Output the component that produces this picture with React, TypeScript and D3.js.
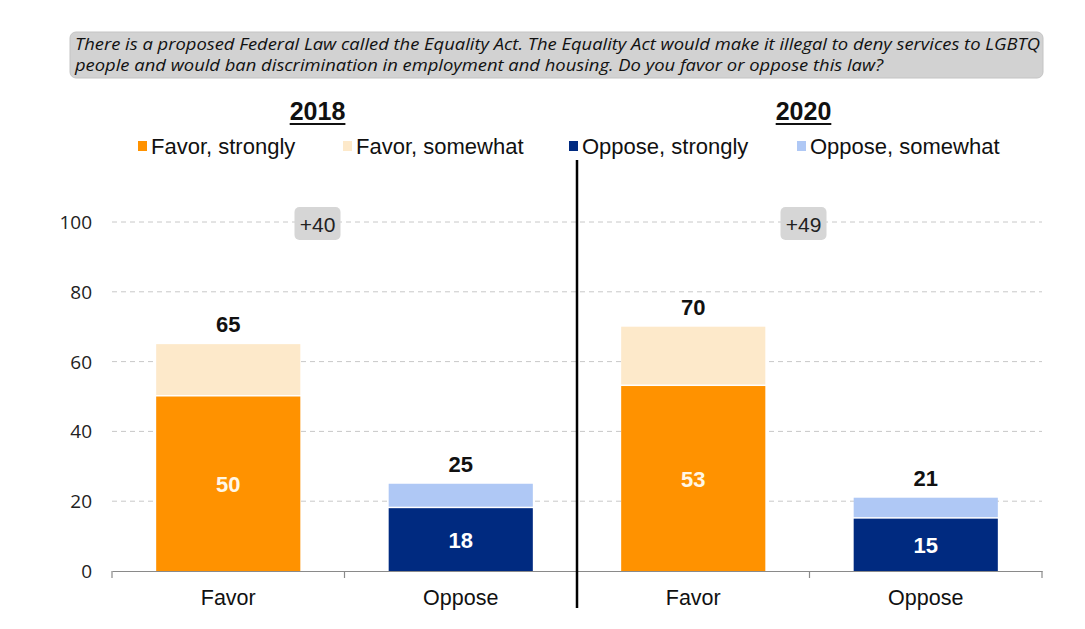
import React, { useRef, useEffect } from 'react';
import * as d3 from 'd3';

const years = ['2018', '2020'];
const answers = ['Favor', 'Oppose'];
const favorStrongly = [50, 53];
const favorSomewhat = [15, 17];
const opposeStrongly = [18, 15];
const opposeSomewhat = [7, 6];
const yTicks = [0, 20, 40, 60, 80, 100];

const legendLabels = ['Favor, strongly', 'Favor, somewhat', 'Oppose, strongly', 'Oppose, somewhat'];
const colors = ['#ff9200', '#fde9ca', '#002a80', '#afc8f5'];

const question = [
  'There is a proposed Federal Law called the Equality Act. The Equality Act would make it illegal to deny services to LGBTQ',
  'people and would ban discrimination in employment and housing. Do you favor or oppose this law?',
];

const width = 1085;
const height = 629;

const App: React.FC = () => {
  const svgRef = useRef<SVGSVGElement>(null);

  useEffect(() => {
    if (!svgRef.current) return;
    const svg = d3.select(svgRef.current);
    svg.selectAll('*').remove();

    const font = '"Liberation Sans", Arial, sans-serif';

    // one bar per year/answer
    const rows = years.flatMap((year, i) =>
      answers.map((answer) => {
        const strong = answer === 'Favor' ? favorStrongly[i] : opposeStrongly[i];
        const some = answer === 'Favor' ? favorSomewhat[i] : opposeSomewhat[i];
        const c = answer === 'Favor' ? [colors[0], colors[1]] : [colors[2], colors[3]];
        return { key: `${year}-${answer}`, year, answer, strong, some, total: strong + some, c };
      })
    );

    const x = d3.scaleBand().domain(rows.map((d) => d.key)).range([112, 1042]).padding(0);
    const y = d3.scaleLinear().domain([0, 100]).range([571, 222]);
    const barW = x.bandwidth() * 0.62;

    // question box
    svg
      .append('rect')
      .attr('x', 70)
      .attr('y', 32)
      .attr('width', 973)
      .attr('height', 46)
      .attr('rx', 6)
      .attr('fill', '#d2d2d2')
      .attr('stroke', '#c4c4c4');

    const lineW = [965, 808];
    svg
      .selectAll('.q')
      .data(question)
      .enter()
      .append('text')
      .attr('x', 75)
      .attr('y', (_, i) => 50 + i * 21)
      .attr('font-family', '"Open Sans", sans-serif')
      .attr('font-style', 'italic')
      .attr('font-size', 15.5)
      .attr('fill', '#111')
      .attr('textLength', (_, i) => lineW[i])
      .attr('lengthAdjust', 'spacingAndGlyphs')
      .text((d) => d);

    // grid
    svg
      .append('g')
      .selectAll('line')
      .data(yTicks.filter((t) => t > 0))
      .enter()
      .append('line')
      .attr('x1', 112)
      .attr('x2', 1042)
      .attr('y1', (d) => y(d))
      .attr('y2', (d) => y(d))
      .attr('stroke', '#c8c8c8')
      .attr('stroke-dasharray', '5,4');

    // y ticks
    svg
      .append('g')
      .selectAll('text')
      .data(yTicks)
      .enter()
      .append('text')
      .attr('x', 92)
      .attr('y', (d) => y(d) + 7)
      .attr('text-anchor', 'end')
      .attr('font-family', '"Open Sans", sans-serif')
      .attr('font-size', 19)
      .attr('fill', '#222')
      .text((d) => d);

    // x axis
    const xAxis = svg
      .append('g')
      .attr('transform', `translate(0,${y(0)})`)
      .call(d3.axisBottom(x).tickSize(0).tickFormat((k) => k.split('-')[1]));
    xAxis.select('.domain').attr('stroke', '#8a8a8a').attr('stroke-width', 1.2);
    xAxis
      .selectAll('text')
      .attr('dy', 0)
      .attr('y', 34)
      .attr('font-family', font)
      .attr('font-size', 21.5)
      .attr('fill', '#111');

    const bounds = [...rows.map((d) => x(d.key) as number), 1042];
    svg
      .append('g')
      .selectAll('line')
      .data(bounds)
      .enter()
      .append('line')
      .attr('x1', (d) => d)
      .attr('x2', (d) => d)
      .attr('y1', y(0))
      .attr('y2', y(0) + 7)
      .attr('stroke', '#8a8a8a')
      .attr('stroke-width', 1.2);

    // bars
    const bar = svg
      .append('g')
      .selectAll('g')
      .data(rows)
      .enter()
      .append('g')
      .attr('transform', (d) => `translate(${(x(d.key) as number) + (x.bandwidth() - barW) / 2},0)`);

    bar
      .append('rect')
      .attr('y', (d) => y(d.strong))
      .attr('width', barW)
      .attr('height', (d) => y(0) - y(d.strong))
      .attr('fill', (d) => d.c[0]);

    bar
      .append('rect')
      .attr('y', (d) => y(d.total))
      .attr('width', barW)
      .attr('height', (d) => y(d.strong) - y(d.total) - 1.5)
      .attr('fill', (d) => d.c[1]);

    bar
      .append('text')
      .attr('x', barW / 2)
      .attr('y', (d) => (y(0) + y(d.strong)) / 2 + 8)
      .attr('text-anchor', 'middle')
      .attr('font-family', font)
      .attr('font-weight', 'bold')
      .attr('font-size', 22)
      .attr('fill', (d) => (d.answer === 'Favor' ? '#fff7e6' : '#fff'))
      .text((d) => d.strong);

    bar
      .append('text')
      .attr('x', barW / 2)
      .attr('y', (d) => y(d.total) - 12)
      .attr('text-anchor', 'middle')
      .attr('font-family', font)
      .attr('font-weight', 'bold')
      .attr('font-size', 22)
      .attr('fill', '#111')
      .text((d) => d.total);

    // year headings and net labels
    const headOffset = [27, 6];
    years.forEach((year, i) => {
      const fav = rows.find((r) => r.key === `${year}-Favor`)!;
      const opp = rows.find((r) => r.key === `${year}-Oppose`)!;
      const tx = (x(fav.key) as number) + x.bandwidth() - headOffset[i];

      const h = svg
        .append('text')
        .attr('x', tx)
        .attr('y', 120)
        .attr('text-anchor', 'middle')
        .attr('font-family', font)
        .attr('font-weight', 'bold')
        .attr('font-size', 25)
        .attr('fill', '#111')
        .text(year);
      const bb = (h.node() as SVGTextElement).getBBox();
      svg
        .append('line')
        .attr('x1', bb.x)
        .attr('x2', bb.x + bb.width)
        .attr('y1', 124)
        .attr('y2', 124)
        .attr('stroke', '#111')
        .attr('stroke-width', 2);

      svg
        .append('rect')
        .attr('x', tx - 23)
        .attr('y', 207)
        .attr('width', 46)
        .attr('height', 33)
        .attr('rx', 5)
        .attr('fill', '#d6d6d6');
      svg
        .append('text')
        .attr('x', tx)
        .attr('y', 232)
        .attr('text-anchor', 'middle')
        .attr('font-family', font)
        .attr('font-size', 21)
        .attr('fill', '#222')
        .text(`+${fav.total - opp.total}`);
    });

    // divider
    const mid = x(`${years[1]}-Favor`) as number;
    svg
      .append('line')
      .attr('x1', mid)
      .attr('x2', mid)
      .attr('y1', 160)
      .attr('y2', 608)
      .attr('stroke', '#000')
      .attr('stroke-width', 2.5);

    // legend
    const legendX = [138, 343, 569, 797];
    const lg = svg
      .append('g')
      .selectAll('g')
      .data(legendLabels)
      .enter()
      .append('g')
      .attr('transform', (_, i) => `translate(${legendX[i]},146)`);
    lg.append('rect')
      .attr('x', 0)
      .attr('y', -5)
      .attr('width', 9)
      .attr('height', 10)
      .attr('fill', (_, i) => colors[i]);
    lg.append('text')
      .attr('x', 13)
      .attr('y', 8)
      .attr('font-family', font)
      .attr('font-size', 22)
      .attr('fill', '#111')
      .text((d) => d);
  }, []);

  return (
    <div style={{ position: 'absolute', left: 0, top: 0 }}>
      <svg ref={svgRef} width={width} height={height} style={{ display: 'block', background: '#fff' }} />
    </div>
  );
};

export default App;
